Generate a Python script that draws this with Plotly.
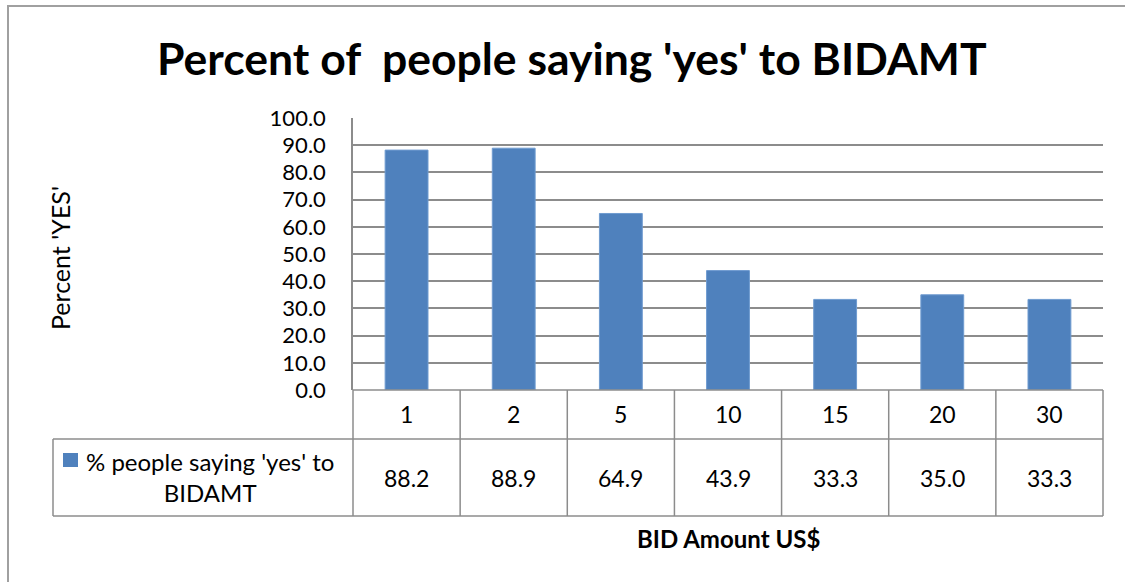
import plotly.graph_objects as go

# Data
bid_amounts = ["1", "2", "5", "10", "15", "20", "30"]
pct_yes = [88.2, 88.9, 64.9, 43.9, 33.3, 35.0, 33.3]
y_ticks = [0, 10, 20, 30, 40, 50, 60, 70, 80, 90, 100]
series_name = "% people saying 'yes' to<br>BIDAMT"

W, H = 1125, 582
PL, PR, PT, PB = 353, 1103, 118, 390  # plot area in pixels

def px(x):
    return (x - PL) / (PR - PL)

def py(y):
    return (PB - y) / (PB - PT)

BAR = "#4F81BD"
GRID = "#8c8c8c"
FONT = "Lato, Calibri, sans-serif"

fig = go.Figure(go.Bar(
    x=bid_amounts, y=pct_yes, width=0.4,
    marker=dict(color=BAR, line=dict(color="#6f9bd0", width=1)),
    showlegend=False, hoverinfo="skip",
))

fig.update_layout(
    width=W, height=H,
    margin=dict(l=PL, r=W - PR, t=PT, b=H - PB),
    paper_bgcolor="white", plot_bgcolor="white",
    font=dict(family=FONT, color="#000000"),
    xaxis=dict(type="category", showticklabels=False, showgrid=False,
               zeroline=False, showline=False, range=[-0.5, 6.5]),
    yaxis=dict(range=[0, 100], tickvals=y_ticks,
               ticktext=[f"{v:.1f}" for v in y_ticks],
               showgrid=True, gridcolor=GRID, gridwidth=1.5,
               zeroline=False, showline=True, linecolor=GRID, linewidth=1.5,
               tickfont=dict(size=22, family=FONT), ticklabelstandoff=21),
)

shapes = []
line = dict(color=GRID, width=1.5)
# outer chart border
shapes.append(dict(type="rect", xref="paper", yref="paper",
                   x0=px(8), x1=px(1140), y0=py(600), y1=py(6),
                   line=dict(color="#a0a0a0", width=2), layer="below"))
# data table grid
for yv in (390, 439, 516):
    x0 = PL if yv == 390 else 53
    shapes.append(dict(type="line", xref="paper", yref="paper",
                       x0=px(x0), x1=px(PR), y0=py(yv), y1=py(yv), line=line))
n = len(bid_amounts)
for i in range(n + 1):
    xv = PL + i * (PR - PL) / n
    shapes.append(dict(type="line", xref="paper", yref="paper",
                       x0=px(xv), x1=px(xv), y0=py(390), y1=py(516), line=line))
shapes.append(dict(type="line", xref="paper", yref="paper",
                   x0=px(53), x1=px(53), y0=py(439), y1=py(516), line=line))
# legend key
shapes.append(dict(type="rect", xref="paper", yref="paper",
                   x0=px(63), x1=px(78), y0=py(467), y1=py(453),
                   fillcolor=BAR, line=dict(width=0)))
fig.update_layout(shapes=shapes)

def label(text, x, y, size, xref="paper", **kw):
    return dict(text=text, xref=xref, yref="paper", x=x, y=y,
                xanchor="center", yanchor="middle", showarrow=False,
                font=dict(size=size, family=FONT), **kw)

ann = [
    label("<b>Percent of\u00a0 people saying 'yes' to BIDAMT</b>", px(572), py(58), 44.5),
    label("Percent 'YES'", px(60), py(258), 25, textangle=-90),
    label("<b>BID Amount US$</b>", px(728), py(538), 24),
    label(series_name, px(210), py(477), 24, align="center"),
]
# table rows: category labels and values, placed on the category axis
for i, (cat, val) in enumerate(zip(bid_amounts, pct_yes)):
    ann.append(label(cat, i, py(414), 23, xref="x"))
    ann.append(label(f"{val:.1f}", i, py(478), 23, xref="x"))
fig.update_layout(annotations=ann)

fig.write_html("out.html")
